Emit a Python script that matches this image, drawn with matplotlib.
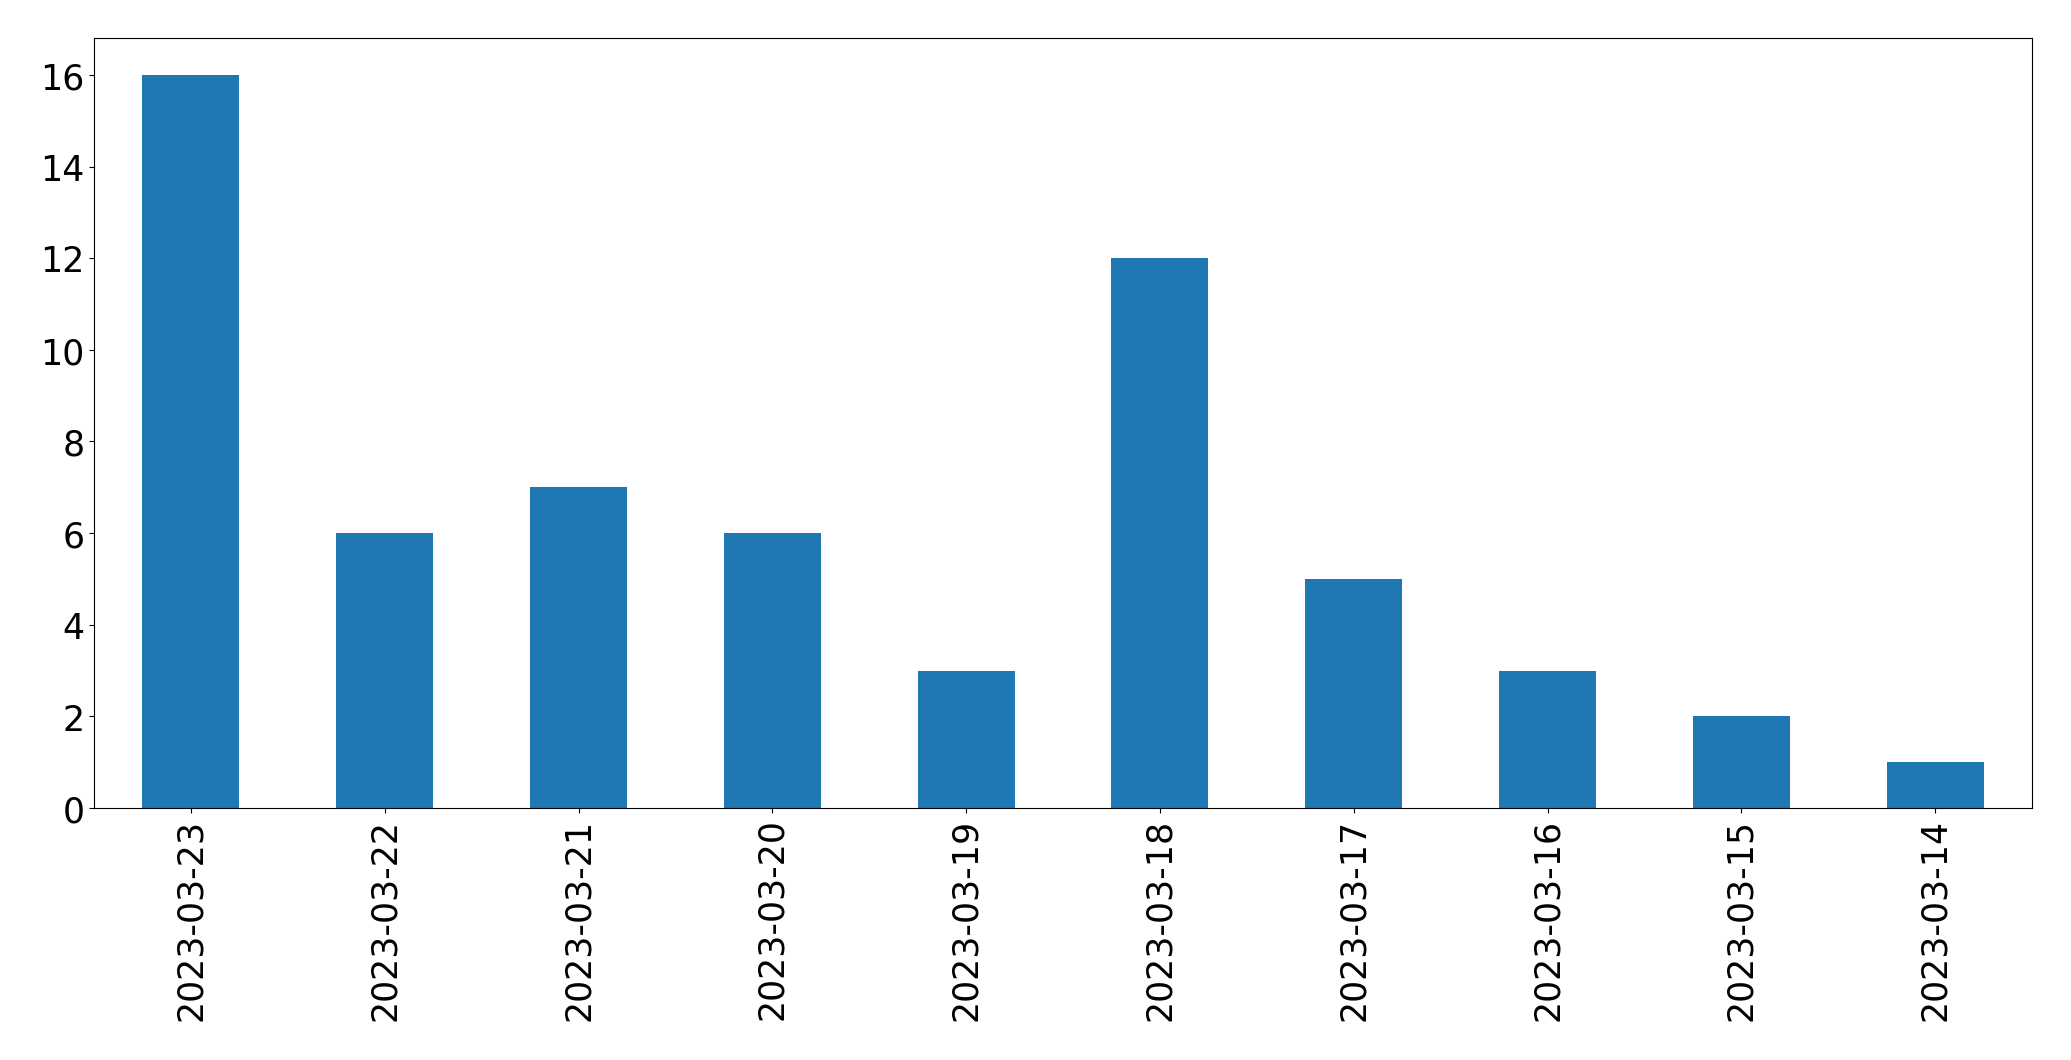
import matplotlib
matplotlib.use("Agg")
import matplotlib.pyplot as plt
import pandas as pd

dates = ["2023-03-23", "2023-03-22", "2023-03-21", "2023-03-20", "2023-03-19",
         "2023-03-18", "2023-03-17", "2023-03-16", "2023-03-15", "2023-03-14"]
counts = [16, 6, 7, 6, 3, 12, 5, 3, 2, 1]

series = pd.Series(counts, index=dates)

fig = plt.figure(figsize=(20.71, 10.608), dpi=100)
ax = fig.add_axes([94 / 2071, 1 - 809 / 1061, (2032 - 94) / 2071, (809 - 39) / 1061])
series.plot(kind="bar", ax=ax, color="#1f77b4", fontsize=25)

plt.savefig("out.png", dpi=100)
